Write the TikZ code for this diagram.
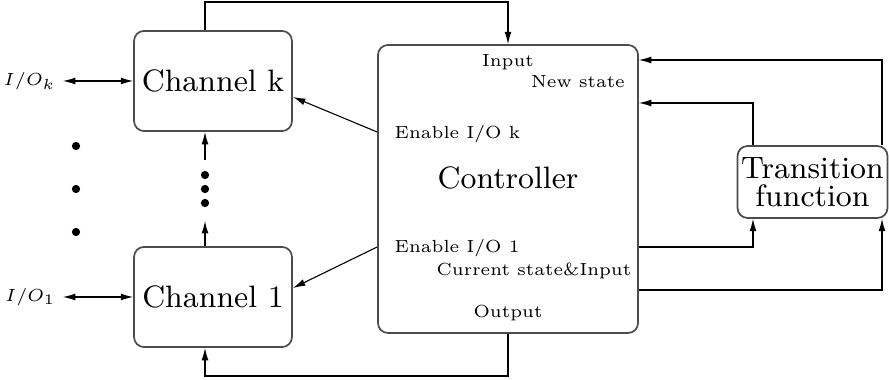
\documentclass[tikz,border=0pt]{standalone}
\usepackage{amsmath, amssymb}
\usepackage{tikz}
\usetikzlibrary{arrows.meta, positioning, calc}

% small labels: six point design, shrunk a bit
\newcommand{\lbl}[1]{\scalebox{0.85}{\fontsize{6}{7}\selectfont #1}}

\tikzset{
  block/.style={draw=black!70, line width=0.5pt, rounded corners=2.9pt, inner sep=0pt, font=\small},
  small/.style={inner sep=0pt},
  wire/.style={line width=0.32pt},
  dot/.style={circle, fill=black, inner sep=0pt, minimum size=2.4pt}
}

\begin{document}
\begin{tikzpicture}[x=0.2907pt, y=0.2907pt, >={Latex[length=3.6pt,width=2pt]}]
  \useasboundingbox (0,0) rectangle (889,380);
  % Blocks
  \node[block, minimum width=45.9pt, minimum height=29.1pt] (chk) at (213,299) {Channel k};
  \node[block, minimum width=45.9pt, minimum height=29.1pt] (ch1) at (213,83) {Channel 1};
  \node[block, minimum width=75.6pt, minimum height=83.7pt] (ctrl) at (508,191) {};
  \node[block, minimum width=43.6pt, minimum height=20.9pt, align=center,
        font=\fontsize{9}{8.1}\selectfont] (tf) at (812.5,198) {Transition\\function};
  % Controller labels
  \node[small, anchor=base] (in) at (508,313) {\lbl{Input}};
  \node[small, anchor=base] (new) at (578,292) {\lbl{New state}};
  \node[small, anchor=base west] (enk) at (394,241) {\lbl{Enable I/O k}};
  \node[font=\small, inner sep=0pt, anchor=base] (name) at (508,191) {Controller};
  \node[small, anchor=base west] (en1) at (394,127) {\lbl{Enable I/O 1}};
  \node[small, anchor=base] (cur) at (534,104) {\lbl{Current state\&Input}};
  \node[small, anchor=base] (out) at (508,62) {\lbl{Output}};
  % I/O ports
  \node[small, anchor=east] (iok) at (56,299) {\lbl{$I/O_k$}};
  \node[small, anchor=east] (io1) at (56,83) {\lbl{$I/O_1$}};
  \draw[wire, <->] ([xshift=2pt]iok.east) -- (chk.west);
  \draw[wire, <->] ([xshift=2pt]io1.east) -- (ch1.west);
  % Dots between the channels
  \foreach \y/\n in {234/a, 191/b, 148/c} \node[dot] (l\n) at (76,\y) {};
  \foreach \y/\n in {205/a, 191/b, 177/c} \node[dot] (m\n) at (205,\y) {};
  \coordinate (up1) at (205,159);
  \coordinate (up2) at (205,220);
  \draw[wire, ->] (ch1.north -| up1) -- (up1);
  \draw[wire, ->] (up2) -- (chk.south -| up2);
  % Enable lines
  \coordinate (ek) at (293,283);
  \coordinate (e1) at (293,92);
  \draw[wire, ->] (ctrl.west |- 0,248) -- (ek);
  \draw[wire, ->] (ctrl.west |- 0,133) -- (e1);
  % Input and output loops
  \coordinate (top) at (205,378);
  \coordinate (bot) at (205,4);
  \draw[wire, ->] (chk.north -| top) -- (top) -| (ctrl.north);
  \draw[wire, ->] (ctrl.south) |- (bot) -- (ch1.south -| bot);
  % Transition function loops
  \coordinate (na) at (882,320);
  \coordinate (nb) at (753,277);
  \coordinate (ca) at (753,133);
  \coordinate (cb) at (882,90);
  \draw[wire, ->] (tf.north -| na) -- (na) -- (ctrl.east |- na);
  \draw[wire, ->] (tf.north -| nb) -- (nb) -- (ctrl.east |- nb);
  \draw[wire, ->] (ctrl.east |- ca) -- (ca) -- (tf.south -| ca);
  \draw[wire, ->] (ctrl.east |- cb) -- (cb) -- (tf.south -| cb);
\end{tikzpicture}
\end{document}
